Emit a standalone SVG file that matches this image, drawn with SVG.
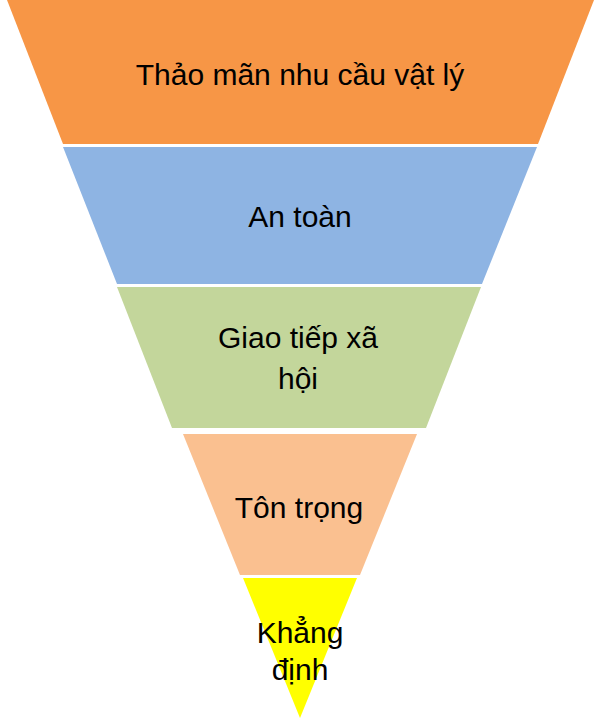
<svg xmlns="http://www.w3.org/2000/svg" width="600" height="724" viewBox="0 0 600 724">
<style>
.t{font-family:"Liberation Sans","Noto Sans",sans-serif;font-size:30px;fill:#000;text-anchor:middle}
</style>
<rect width="600" height="724" fill="#fff"/>
<g id="n1"><polygon points="7,0 594,0 538,144 63,144" fill="#F79646"/><text class="t" x="300" y="85">Thảo mãn nhu cầu vật lý</text></g>
<g id="n2"><polygon points="63,147 537,147 482,284 117,284" fill="#8EB4E3"/><text class="t" x="300" y="227">An toàn</text></g>
<g id="n3"><polygon points="117,287 481,287 426,428 172,428" fill="#C3D69B"/><text class="t" x="298" y="348">Giao tiếp xã</text><text class="t" x="298" y="389">hội</text></g>
<g id="n4"><polygon points="183,434 417,434 360,575 240,575" fill="#FAC090"/><text class="t" x="299" y="518">Tôn trọng</text></g>
<g id="n5"><polygon points="243,578 357,578 300,718" fill="#FFFF00"/><text class="t" x="300" y="643">Khẳng</text><text class="t" x="300" y="680">định</text></g>
<g id="connectors"/>
</svg>
